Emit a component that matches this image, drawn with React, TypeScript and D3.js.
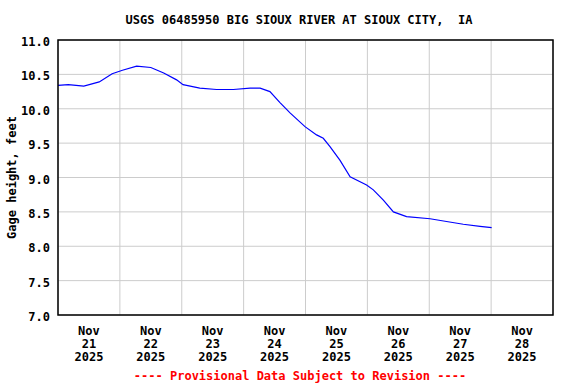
import React from 'react';
import * as d3 from 'd3';

// gage height readings, hours after Nov 21 2025 00:00
const hours = [0, 4, 10, 16, 21, 25, 30.5, 36, 41, 46, 48.5, 55, 61.5, 68, 74.5, 78.4, 82.2, 86.1, 90, 95.8, 100.3, 102.9, 105.5, 109.4, 113.3, 119.7, 122.3, 126.2, 130.1, 135.2, 144.3, 150.7, 157.2, 163.7, 168.2];
const gage = [10.34, 10.35, 10.33, 10.39, 10.51, 10.56, 10.62, 10.6, 10.52, 10.42, 10.35, 10.3, 10.28, 10.28, 10.3, 10.3, 10.25, 10.09, 9.94, 9.74, 9.62, 9.57, 9.45, 9.25, 9.01, 8.89, 8.82, 8.67, 8.5, 8.43, 8.4, 8.36, 8.32, 8.29, 8.27];
const dayLabels = ['21', '22', '23', '24', '25', '26', '27', '28'];
const yTicks = [7.0, 7.5, 8.0, 8.5, 9.0, 9.5, 10.0, 10.5, 11.0];

const W = 576;
const H = 384;
const m = { left: 58, right: 23, top: 40, bottom: 69 };
const font = '"DejaVu Sans Mono", monospace';

export default function App() {
  const start = new Date(2025, 10, 21);
  const x = d3.scaleTime()
    .domain([start, d3.timeDay.offset(start, 8)])
    .range([m.left, W - m.right]);
  const y = d3.scaleLinear().domain([7, 11]).range([H - m.bottom, m.top]);

  const pts = hours.map((h, i) => ({ t: start.getTime() + h * 3600e3, v: gage[i] }));
  const line = d3.line<{ t: number; v: number }>()
    .x(d => x(new Date(d.t)))
    .y(d => y(d.v));

  const days = d3.range(9).map(i => d3.timeDay.offset(start, i));

  return (
    <svg width={W} height={H} style={{ position: 'absolute', left: 0, top: 0, background: '#fff' }}>
      <text x={299} y={24} textAnchor="middle" fontFamily={font} fontWeight="bold" fontSize={12}
        style={{ whiteSpace: 'pre' }}>
        {'USGS 06485950 BIG SIOUX RIVER AT SIOUX CITY,  IA'}
      </text>
      {yTicks.map(t => (
        <g key={t}>
          <line x1={m.left} x2={W - m.right} y1={y(t)} y2={y(t)} stroke="#cccccc" />
          <text x={m.left - 8} y={y(t) + 6} textAnchor="end" fontFamily={font} fontWeight="bold" fontSize={12}>
            {t.toFixed(1)}
          </text>
        </g>
      ))}
      {days.map((d, i) => (
        <line key={i} x1={x(d)} x2={x(d)} y1={m.top} y2={H - m.bottom} stroke="#cccccc" />
      ))}
      {dayLabels.map((lab, i) => {
        const cx = x(d3.timeHour.offset(days[i], 12));
        return (
          <text key={lab} x={cx} textAnchor="middle" fontFamily={font} fontWeight="bold" fontSize={12}>
            <tspan x={cx} y={335}>Nov</tspan>
            <tspan x={cx} y={348}>{lab}</tspan>
            <tspan x={cx} y={361}>2025</tspan>
          </text>
        );
      })}
      <path d={line(pts) || ''} fill="none" stroke="#0000ff" strokeWidth={1.2} />
      <rect x={m.left} y={m.top} width={W - m.left - m.right} height={H - m.top - m.bottom}
        fill="none" stroke="#000" strokeWidth={1.5} />
      <text transform={`translate(16,${(m.top + H - m.bottom) / 2}) rotate(-90)`} textAnchor="middle"
        fontFamily={font} fontWeight="bold" fontSize={12}>
        Gage height, feet
      </text>
      <text x={300} y={380} textAnchor="middle" fontFamily={font} fontWeight="bold" fontSize={12} fill="#ff0000">
        ---- Provisional Data Subject to Revision ----
      </text>
    </svg>
  );
}
